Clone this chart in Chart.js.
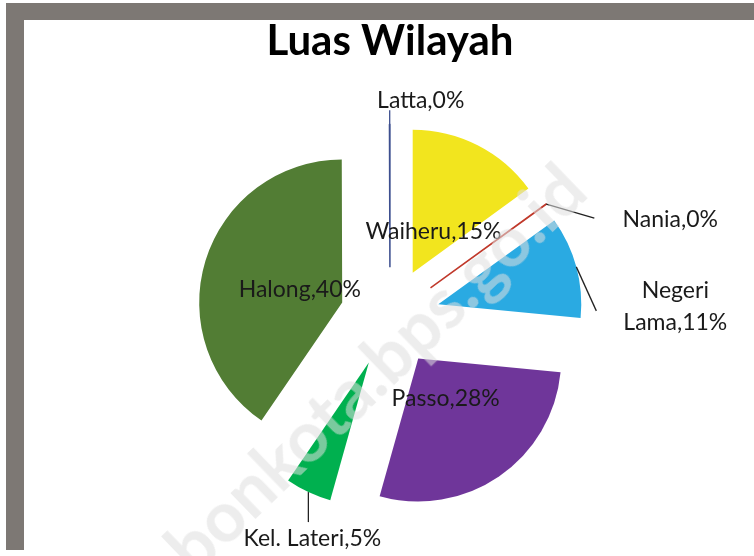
<!DOCTYPE html>
<html>
<head>
<meta charset="utf-8">
<script src="https://cdn.jsdelivr.net/npm/chart.js@4.4.1/dist/chart.umd.min.js"></script>
<style>
  html, body { margin: 0; padding: 0; background: #ffffff; }
  #wrap { position: relative; width: 754px; height: 556px; overflow: hidden; background: #fff; }
  #frame { position: absolute; left: 6px; top: 3px; right: 0; bottom: 6px;
           border-top: 17px solid #7d7874; border-left: 18px solid #7d7874; background: #fff; }
  #wm { position: absolute; left: 574px; top: 178px; width: 0; height: 0;
        transform: rotate(-44deg); transform-origin: 0 0; }
  #wm span { position: absolute; right: 0; top: -45px; height: 72px; line-height: 72px;
        font: bold 70px Lato, sans-serif; color: rgba(222,222,222,0.55); white-space: nowrap; }
  canvas { position: absolute; left: 0; top: 0; }
</style>
</head>
<body>
<div id="wrap">
  <div id="frame"></div>
  <canvas id="c" width="754" height="556"></canvas>
  <div id="wm"><span>ambonkota.bps.go.id</span></div>
</div>
<script>
const categories = ["Waiheru", "Nania", "Negeri Lama", "Passo", "Kel. Lateri", "Halong", "Latta"];
const values = [15.0, 0.05, 11.5, 27.8, 5.2, 40.4, 0.05];
const percentLabels = ["15%", "0%", "11%", "28%", "5%", "40%", "0%"];
const colors = ["#f2e51e", "#c0392b", "#2aaae2", "#6f369a", "#00b04f", "#527d34", "#3d4f8f"];

const EXPLODE = 50; // explosion distance of every slice, px

// label placement styles (relative to each slice's own geometry)
const labelStyle = [
  { mode: "inside", frac: 0.32 },
  { mode: "outside", lead: [48, 14], text: [124, 16], lines: ["Nania,0%"] },
  { mode: "outside", lead: [20, 44], text: [99, 40], lines: ["Negeri", "Lama,11%"] },
  { mode: "inside", frac: 0.34 },
  { mode: "outside", lead: [0, 30], text: [4, 46], lines: ["Kel. Lateri,5%"] },
  { mode: "inside", frac: 0.31 },
  { mode: "outside", lead: [0, -14], text: [31, -24], lines: ["Latta,0%"] }
];

const FONT = "Lato, 'Open Sans', sans-serif";

function midAngle(arc) {
  const p = arc.getProps(["startAngle", "endAngle"], true);
  return (p.startAngle + p.endAngle) / 2;
}

// draw every slice with the library's own arc element, each shifted outward along its mid angle
const explodePlugin = {
  id: "explode",
  beforeDatasetDraw(chart, args) {
    const ctx = chart.ctx;
    args.meta.data.forEach((arc) => {
      const mid = midAngle(arc);
      ctx.save();
      ctx.translate(Math.cos(mid) * EXPLODE, Math.sin(mid) * EXPLODE);
      arc.draw(ctx, chart.chartArea);
      ctx.restore();
    });
    return false;
  }
};

const labelPlugin = {
  id: "sliceLabels",
  afterDatasetsDraw(chart) {
    const ctx = chart.ctx;
    const meta = chart.getDatasetMeta(0);
    ctx.save();
    ctx.font = "23px " + FONT;
    ctx.fillStyle = "#1a1a1a";
    ctx.textAlign = "center";
    ctx.textBaseline = "middle";
    meta.data.forEach((arc, i) => {
      const p = arc.getProps(["x", "y", "startAngle", "endAngle", "outerRadius"], true);
      const mid = (p.startAngle + p.endAngle) / 2;
      const cx = p.x + Math.cos(mid) * EXPLODE;
      const cy = p.y + Math.sin(mid) * EXPLODE;
      const st = labelStyle[i];
      if (st.mode === "inside") {
        const r = p.outerRadius * st.frac;
        ctx.fillText(categories[i] + "," + percentLabels[i], cx + Math.cos(mid) * r, cy + Math.sin(mid) * r);
      } else {
        const ox = cx + Math.cos(mid) * p.outerRadius;
        const oy = cy + Math.sin(mid) * p.outerRadius;
        ctx.strokeStyle = (i === 6) ? "#3d4f8f" : "#222";
        ctx.lineWidth = 1.3;
        ctx.beginPath();
        ctx.moveTo(ox, oy);
        ctx.lineTo(ox + st.lead[0], oy + st.lead[1]);
        ctx.stroke();
        const tx = ox + st.text[0], ty = oy + st.text[1];
        const lh = 32;
        st.lines.forEach((ln, k) => {
          ctx.fillText(ln, tx, ty + (k - (st.lines.length - 1) / 2) * lh);
        });
      }
    });
    ctx.restore();
  }
};

new Chart(document.getElementById("c"), {
  type: "pie",
  data: {
    labels: categories,
    datasets: [{
      data: values,
      backgroundColor: colors,
      borderColor: colors,
      borderWidth: [0, 1.5, 0, 0, 0, 0, 1.5],
      offset: 0
    }]
  },
  options: {
    responsive: false,
    animation: false,
    radius: 143,
    layout: { padding: { left: 26, right: 0, top: 16, bottom: 0 } },
    plugins: {
      legend: { display: false },
      tooltip: { enabled: false },
      title: {
        display: true,
        text: "Luas Wilayah",
        color: "#000",
        font: { family: FONT, size: 42, weight: "bold", lineHeight: 1.2 },
        padding: { top: 0, bottom: 12 }
      }
    }
  },
  plugins: [explodePlugin, labelPlugin]
});
</script>
</body>
</html>
